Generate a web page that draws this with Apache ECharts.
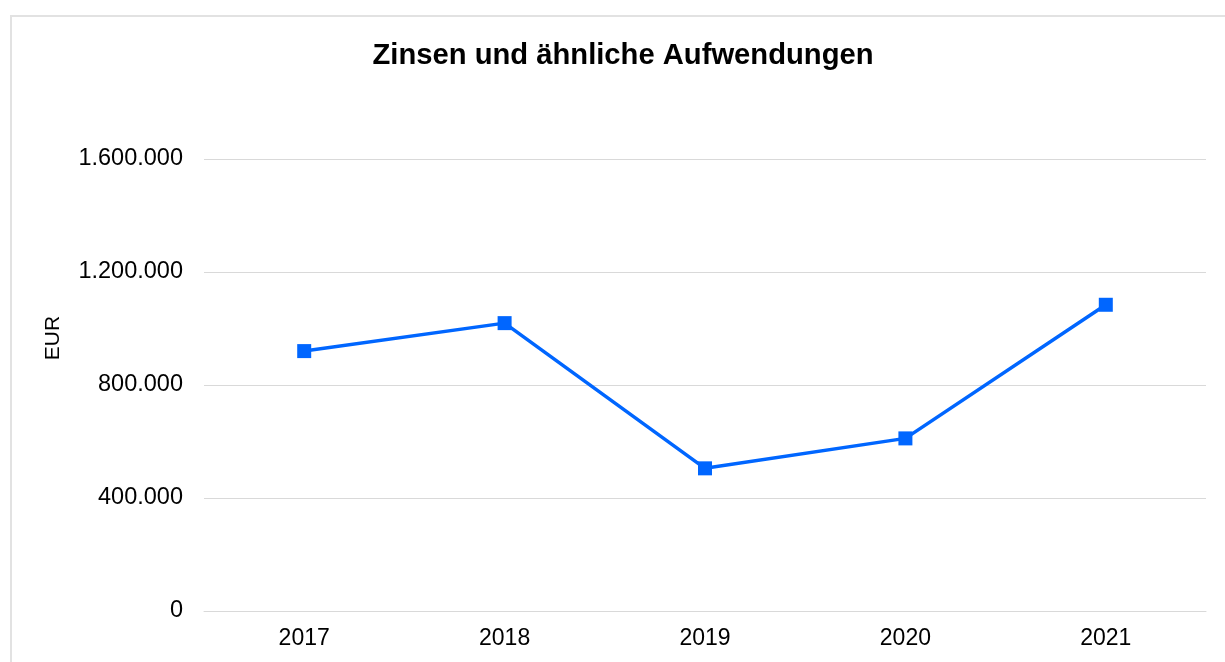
<!DOCTYPE html>
<html>
<head>
<meta charset="utf-8">
<script src="https://cdn.jsdelivr.net/npm/echarts@6/dist/echarts.min.js"></script>
<style>
  html, body { margin: 0; padding: 0; background: #fff; }
  #chart { width: 1225px; height: 662px; }
</style>
</head>
<body>
<div id="chart"></div>
<script>
var years = ['2017', '2018', '2019', '2020', '2021'];
var expenses = [920000, 1019000, 505000, 611000, 1084000];
var yTicks = [0, 400000, 800000, 1200000, 1600000];

function fmt(v) {
    return String(v).replace(/\B(?=(\d{3})+(?!\d))/g, '.');
}

var chart = echarts.init(document.getElementById('chart'));
chart.setOption({
    animation: false,
    textStyle: { fontFamily: 'Liberation Sans, Arial, sans-serif' },
    graphic: [{
        type: 'rect',
        shape: { x: 11, y: 16, width: 1400, height: 800 },
        style: { fill: 'none', stroke: '#e2e2e2', lineWidth: 2 },
        silent: true
    }, {
        // axis title sits above the middle of the plot, like the original
        type: 'text',
        x: 53,
        y: 338,
        rotation: Math.PI / 2,
        style: {
            text: 'EUR',
            fill: '#000',
            fontSize: 21,
            fontFamily: 'Liberation Sans, Arial, sans-serif',
            align: 'center',
            verticalAlign: 'middle'
        }
    }],
    title: {
        text: 'Zinsen und ähnliche Aufwendungen',
        left: 618,
        textAlign: 'center',
        top: 36,
        textStyle: { fontSize: 29.2, fontWeight: 'bold', color: '#000' }
    },
    grid: { left: 204, right: 19, top: 159, bottom: 51 },
    xAxis: {
        type: 'category',
        data: years,
        boundaryGap: true,
        axisLine: { show: true, lineStyle: { color: '#d9d9d9', width: 1 } },
        axisTick: { show: false },
        axisLabel: { color: '#000', fontSize: 23, margin: 16 }
    },
    yAxis: {
        type: 'value',
        min: yTicks[0],
        max: yTicks[yTicks.length - 1],
        interval: 400000,
        axisLine: { show: false },
        axisTick: { show: false },
        splitLine: { lineStyle: { color: '#d9d9d9', width: 1 } },
        axisLabel: { color: '#000', fontSize: 23.5, margin: 21, formatter: fmt }
    },
    series: [{
        type: 'line',
        data: expenses,
        symbol: 'rect',
        symbolSize: 14,
        lineStyle: { color: '#0066ff', width: 3.5 },
        itemStyle: { color: '#0066ff' }
    }]
});
</script>
</body>
</html>
